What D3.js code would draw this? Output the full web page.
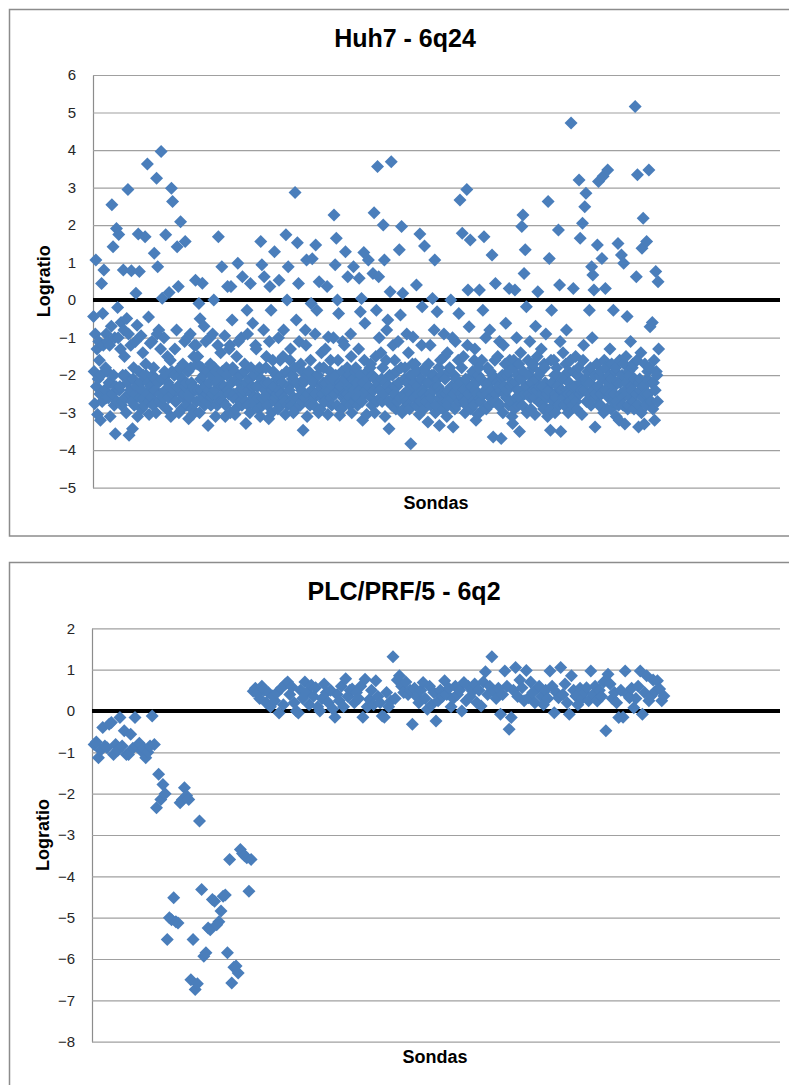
<!DOCTYPE html>
<html><head><meta charset="utf-8">
<script src="https://cdn.jsdelivr.net/npm/d3@7"></script>
<style>body{margin:0;background:#fff}svg{display:block}</style>
</head><body>
<svg id="c" width="789" height="1085"></svg>
<script>
// ---------- DATA ----------
const huh7Title = "Huh7 - 6q24";
const plcTitle = "PLC/PRF/5 - 6q2";
const yAxisTitle = "Logratio";
const xAxisTitle = "Sondas";
const huh7Ticks = [6,5,4,3,2,1,0,-1,-2,-3,-4,-5];
const plcTicks = [2,1,0,-1,-2,-3,-4,-5,-6,-7,-8];
const huh7XMax = 1200;
const plcXMax = 320;

const huh7Values = [
-0.44,-1.9,-2.76,-0.9,1.07,-2.3,-1.3,-3.05,-2.1,-1.1,-1.6,-2.5,-3.2,-2.0,0.44,-2.7,-0.36,-1.2,0.8,-2.4,
-2.4,-1.8,-0.9,-2.6,-1.9,-1.1,-2.6,-2.2,-1.2,-3.1,-2.2,-0.7,2.54,-2.5,1.42,-2.0,-2.8,-1.0,-3.56,-2.3,
1.91,-2.7,-0.2,-1.0,1.75,-2.4,-2.3,-1.3,-0.6,-2.8,-2.7,-2.0,0.8,-0.8,-1.5,-2.6,-2.0,-3.0,-0.49,-2.2,
2.95,-0.9,-3.6,-2.5,-2.4,-1.2,0.78,-2.7,-3.43,-2.1,-1.8,-2.8,-2.5,-1.1,0.18,-2.3,-0.67,-3.1,1.76,-1.9,
0.76,-2.6,-2.2,-0.95,-2.9,-2.4,-1.4,-2.0,-2.6,-2.8,1.69,-1.7,-2.0,-2.5,3.63,-2.2,-0.45,-3.05,-2.7,-1.15,
-2.3,-2.6,-1.1,-2.0,-2.8,-1.8,1.25,-2.4,-2.1,-3.0,3.25,-0.9,0.89,-2.2,-0.8,-2.7,-2.5,-1.3,3.96,-2.1,
0.05,-2.8,-2.6,-1.0,-1.9,-2.4,1.74,-2.0,-2.9,-1.5,-2.2,-2.6,0.2,-2.3,-1.6,-3.1,2.98,-1.9,2.63,-2.5,
-2.4,-2.0,-1.3,-2.7,-2.7,-0.8,1.42,-2.3,0.36,-3.0,-2.0,-1.8,2.09,-2.5,-2.9,-2.1,-1.7,-2.6,-2.5,-1.1,
1.56,-2.3,-2.2,-2.8,-1.0,-1.9,-3.16,-2.5,-2.6,-0.9,-1.8,-2.2,-2.9,-3.05,-2.3,-1.5,-1.2,-2.4,0.53,-1.2,
-2.7,-1.7,-1.5,-2.4,-0.09,-3.0,-0.5,-2.1,-2.4,-1.8,0.45,-2.6,-2.0,-0.7,-2.8,-2.3,-1.1,-2.7,-2.5,-1.9,
-3.34,-2.4,-2.2,-1.0,-1.7,-2.8,-2.6,-2.0,-0.9,-2.5,0,-1.8,-2.4,-3.1,-1.9,-2.2,-2.8,-1.2,1.69,-2.6,
-2.1,-2.7,-1.4,-2.3,0.89,-1.9,-2.7,-2.5,-2.3,-0.95,-3.1,-2.8,-1.8,-2.0,0.36,-2.4,-2.5,-1.3,-1.2,-3.0,
0.36,-2.2,-0.53,-1.8,-2.6,-2.5,-1.9,-3.05,-2.9,-2.1,-1.5,-2.6,0.98,-1.1,-2.2,-2.4,-2.7,-2.0,-1.0,-2.8,
0.62,-2.5,-2.4,-1.9,-1.7,-2.7,-3.29,-2.2,-0.27,-0.9,-2.8,-2.4,-2.1,-3.0,0.44,-1.8,-2.5,-2.3,-0.62,-2.6,
-2.0,-2.8,-2.7,-1.2,-1.3,-2.3,-2.3,-2.6,-2.9,-1.9,-1.8,-3.1,1.56,-2.1,0.94,-2.8,-2.6,-0.8,0.62,-2.4,
-2.2,-1.8,-1.5,-2.6,-2.8,-2.2,-3.16,-1.1,0.36,-2.5,-0.27,-3.0,-2.4,-1.6,-1.9,-2.3,1.29,-2.7,-2.6,-2.0,
-2.1,-2.5,-2.9,-1.0,0.53,-2.4,-1.6,-2.8,-2.5,-2.0,-2.2,-1.5,-0.8,-2.6,-2.7,-3.05,1.74,-1.9,0,-2.8,
0.89,-2.3,-2.4,-1.6,-1.3,-2.7,-2.8,-2.1,-2.0,-3.0,-2.6,-1.8,2.87,-2.9,-0.53,-2.2,1.53,-2.6,0.44,-1.1,
-2.3,-2.8,-1.7,-2.4,-2.7,-1.9,-3.47,-2.2,-2.1,-2.6,-0.8,-1.2,1.07,-3.1,-2.5,-2.0,-1.9,-2.7,-2.8,-1.6,
-0.09,-2.4,1.1,-2.1,-2.2,-2.8,-2.6,-0.9,1.47,-2.5,-0.27,-2.0,-2.0,-3.0,0.49,-1.8,-2.9,-2.3,-1.4,-2.6,
-2.5,-2.2,-1.8,-2.7,-2.7,-1.3,-2.2,-2.4,0.36,-3.05,-0.98,-2.1,-2.4,-1.9,-1.6,-2.6,-2.8,-2.3,-2.1,-1.0,
2.27,-2.5,0.94,-2.0,1.65,-2.8,0,-1.6,-0.36,-2.4,-3.07,-2.2,-2.3,-2.9,-1.9,-1.1,-2.6,-2.5,-1.2,-2.1,
1.29,-2.7,-2.5,-1.8,0.62,-2.3,-2.0,-2.6,-2.8,-0.9,-1.5,-3.0,-2.3,-2.1,0.89,-2.4,-2.7,-1.9,-1.8,-2.6,
-2.2,-2.8,-2.6,-1.3,0.58,-2.4,-0.31,-2.0,0.04,-2.7,-3.2,-2.2,1.27,-1.6,-0.62,-2.5,-2.4,-3.05,-1.9,-2.1,
1.07,-2.3,-2.5,-1.8,-1.7,-2.6,-2.8,-2.0,0.71,-2.4,2.33,-3.0,-2.1,-1.5,-0.27,-2.7,3.56,-2.2,0.62,-1.0,
-2.4,-2.6,-1.4,-2.1,-2.7,-1.8,2.0,-2.5,1.07,-3.1,-2.2,-1.6,-0.8,-2.3,-0.53,-2.7,-3.43,-2.0,0.22,-2.4,
3.69,-2.8,-2.0,-1.2,-2.6,-2.3,-1.6,-2.5,-2.9,-1.9,-2.3,-2.7,-1.1,-2.2,1.34,-2.6,-0.4,-1.8,1.96,-3.0,
0.18,-2.9,-2.5,-2.1,-1.8,-2.6,-2.7,-0.9,-2.2,-2.4,-1.4,-2.8,-2.9,-2.0,-3.83,-2.5,-2.0,-1.7,-0.98,-2.3,
-2.6,-2.2,-1.7,-2.8,0.4,-1.9,-2.3,-2.5,-2.8,-3.05,1.76,-2.7,-2.1,-1.2,-0.18,-2.4,-2.5,-2.9,1.44,-1.8,
-1.9,-2.6,-2.7,-2.2,-3.25,-1.7,-2.2,-2.5,-1.2,-2.8,-2.6,-2.0,0.04,-2.4,-2.0,-0.8,1.07,-3.0,-2.8,-2.3,
-0.31,-2.1,-2.3,-1.8,-3.34,-2.6,-1.6,-2.4,-2.5,-2.0,-2.9,-2.7,-0.9,-1.5,-2.1,-2.5,-2.7,-3.1,-1.4,-2.8,
-2.4,-1.9,-1.8,-2.6,0,-2.3,-2.6,-1.0,-3.38,-2.5,-2.0,-2.9,-1.1,-2.1,-2.8,-2.4,-2.3,-1.6,-0.36,-2.7,
2.67,-2.2,-2.5,-1.8,1.78,-2.6,-1.5,-2.4,-2.7,-3.0,-2.1,-2.8,2.95,-1.2,0.27,-2.5,-0.71,-2.3,1.6,-2.9,
-2.3,-2.0,-1.9,-2.7,-2.8,-1.6,-1.3,-2.4,-3.2,-2.2,-2.5,-3.05,-2.0,-1.8,0.27,-2.6,-2.7,-2.1,-1.6,-2.5,
-0.27,-2.9,1.69,-2.2,-2.4,-1.0,-2.9,-2.5,-1.8,-2.3,-2.2,-2.8,-0.8,-1.9,-2.6,-2.4,1.2,-2.0,-3.65,-2.7,
-2.1,-1.6,0.44,-2.5,-2.7,-2.2,-1.5,-2.8,-2.3,-1.1,-2.8,-2.4,-3.69,-2.1,-2.0,-3.0,-1.2,-2.3,-2.5,-1.7,
-0.62,-2.6,-2.4,-2.0,-1.9,-2.8,0.31,-1.6,-2.7,-2.3,-2.2,-3.1,-3.29,-1.8,-1.6,-2.9,0.27,-2.2,-2.6,-1.0,
-2.0,-2.4,-2.8,-1.7,-3.5,-2.6,-1.4,-2.1,1.96,-2.8,2.27,-1.9,0.71,-2.5,1.34,-2.3,-0.18,-3.0,-2.3,-1.6,
-2.5,-2.0,-1.1,-2.6,-2.9,-2.2,-2.2,-1.8,-1.7,-2.4,-2.6,-3.05,-0.7,-2.1,-2.4,-1.5,0.22,-2.7,-2.0,-2.3,
-2.7,-1.9,-1.3,-2.5,-2.3,-2.8,-2.9,-1.7,-1.8,-2.2,-0.9,-2.6,-2.5,-3.1,2.63,-2.4,1.11,-2.9,-3.47,-1.6,
-0.27,-2.2,-2.2,-2.7,-1.6,-2.0,-3.0,-2.5,-2.6,-1.8,-2.0,-2.3,1.87,-2.8,0.4,-1.1,-3.5,-2.4,-2.4,-2.1,
-1.4,-2.6,-2.8,-2.0,-2.1,-1.7,-0.8,-2.4,-2.5,-3.0,-1.9,-2.2,-2.7,-1.6,4.72,-2.5,-2.3,-2.8,0.31,-1.9,
-2.6,-2.3,-1.5,-2.7,-2.9,-2.0,-2.0,-1.8,3.2,-2.5,1.65,-2.2,-2.4,-3.05,2.05,-1.6,-1.2,-2.4,2.49,-2.1,
2.85,-2.7,-2.2,-1.9,-2.7,-2.5,-0.27,-2.2,-1.8,-2.8,0.89,-1.0,0.67,-2.4,0.27,-2.0,-3.38,-2.6,-2.5,-1.7,
1.47,-2.3,3.16,-2.8,-2.0,-1.9,-2.8,-2.5,1.11,-2.1,3.3,-3.0,-1.6,-2.4,0.31,-1.8,-2.4,-2.9,3.47,-2.2,
-2.6,-2.0,-1.3,-2.5,-2.9,-1.7,-2.1,-2.7,-0.27,-2.3,-2.5,-1.9,-1.8,-3.1,-2.7,-2.2,1.51,-2.8,-3.2,-1.6,
-2.2,-2.5,1.2,-2.0,-2.6,-2.8,0.98,-1.7,-3.3,-2.4,-1.5,-2.2,-0.44,-2.9,-2.8,-1.9,-2.0,-2.6,-1.1,-2.3,
-2.4,-1.8,-1.7,-2.7,-2.9,-2.1,5.16,-2.5,0.62,-1.6,3.34,-2.8,-3.38,-2.2,-2.1,-2.4,-1.4,-3.0,1.38,-2.6,
2.18,-2.3,-3.3,-1.7,-2.5,-2.8,1.56,-2.1,-1.9,-2.5,3.47,-1.8,-0.71,-2.7,-2.7,-2.2,-0.6,-2.9,-2.2,-1.6,
-3.2,-2.4,0.76,-1.9,-2.0,-2.7,0.49,-1.3
];

const plcValues = [
-0.81,-0.75,-1.13,-0.95,-0.4,-0.85,-0.89,-0.32,-0.28,-1.05,
-0.81,-0.95,-0.16,-0.85,-0.48,-1.05,-1.05,-0.56,-0.9,-0.16,
-0.85,-0.78,-0.97,-0.9,-1.13,-1.0,-0.85,-0.12,-0.81,-2.34,
-1.53,-2.14,-1.78,-2.0,-5.53,-5.0,-5.05,-4.52,-5.1,-5.13,
-2.22,-2.15,-1.86,-2.05,-2.14,-6.5,-5.53,-6.74,-6.6,-2.66,
-4.32,-5.93,-5.85,-5.25,-5.29,-4.56,-4.6,-5.17,-5.1,-4.84,
-4.48,-4.45,-5.85,-3.59,-6.58,-6.2,-6.17,-6.34,-3.35,-3.45,
-3.5,-3.55,-4.36,-3.59,
0.48,0.55,0.42,0.3,0.6,0.5,0.2,0.45,0.1,0.36,0.25,0.44,-0.05,0.55,0.15,0.65,
0.7,0.4,0.58,0.2,0,-0.05,0.5,0.3,0.7,0.45,0.15,0.62,0.35,0.56,0.1,0,
0.3,0.65,0.45,0.2,0.5,0.05,-0.15,0.4,0.25,0.6,0.1,0.78,0.35,0.5,0.53,0.2,
0.45,0.3,0.6,-0.15,0.77,0.1,0.28,0.5,0.15,0.73,0.35,0.2,-0.12,-0.15,0.45,0.1,
0.24,1.31,0.3,0.75,0.85,0.6,0.45,0.7,0.4,0.5,-0.32,0.55,0.35,0.2,0.5,0.69,
0.3,0.04,0.6,0.15,0.45,-0.24,0.25,0.5,0.35,0.73,0.4,0.55,0.1,0.3,0.6,0.4,
0.5,0,0.69,0.25,0.6,0.35,0.48,0.65,0.2,0.5,0.12,0.7,0.95,0.4,0.6,1.31,
0.48,0.3,0.55,-0.08,0.4,0.97,0.6,-0.44,-0.16,0.5,1.05,0.35,0.75,0.56,0.25,0.98,
0.32,0.7,0.45,0.2,0.55,0.6,0.35,0.15,0.5,0.3,0.97,0.6,-0.04,0.45,0.32,1.05,
0.4,0.65,0.2,-0.08,0.85,0.5,0.36,0.15,0.55,0.3,0.45,0.56,0.25,0.97,0.4,0.6,
0.24,0.5,0.35,0.7,-0.48,0.89,0.65,0.3,0.45,0.2,-0.16,0.5,-0.15,0.97,0.4,0.32,
0.55,0.08,0.3,0.6,0.97,-0.08,0.45,0.85,0.25,0.36,0.75,0.48,0.73,0.53,0.25,0.36
];

// ---------- DRAW ----------
const svg = d3.select("#c");
const FONT = "'Liberation Sans', Arial, sans-serif";
const markerColor = "#4a7ebb";

function panel(o) {
  const g = svg.append("g");
  g.append("rect").attr("x", o.frame[0]).attr("y", o.frame[1])
    .attr("width", o.frame[2]).attr("height", o.frame[3])
    .attr("fill", "#fff").attr("stroke", "#8c8c8c").attr("stroke-width", 1.5);
  g.append("text").attr("x", o.titleX).attr("y", o.titleY)
    .attr("text-anchor", "middle").attr("font-family", FONT)
    .attr("font-weight", "bold").attr("font-size", 25).attr("fill", "#000")
    .text(o.title);

  const x = d3.scaleLinear().domain([0, o.xMax]).range([o.left, o.right]);
  const y = d3.scaleLinear().domain([o.ticks[o.ticks.length - 1], o.ticks[0]]).range([o.bottom, o.top]);

  const ax = g.append("g").attr("transform", `translate(${o.left},0)`)
    .call(d3.axisLeft(y).tickValues(o.ticks).tickSize(-(o.right - o.left)).tickSizeOuter(0).tickPadding(17)
      .tickFormat(d3.format("d")));
  ax.select(".domain").attr("stroke", "#8c8c8c").attr("stroke-width", 1.2);
  ax.selectAll(".tick line").attr("stroke", "#a0a0a0").attr("stroke-width", 1.2);
  ax.selectAll(".tick text").attr("font-family", FONT).attr("font-size", 15).attr("fill", "#262626");

  g.append("line").attr("x1", o.left).attr("x2", o.right)
    .attr("y1", y(0)).attr("y2", y(0)).attr("stroke", "#000").attr("stroke-width", 4);

  const r = 6.5;
  g.append("g").selectAll("path").data(o.values).join("path")
    .attr("d", `M0,${-r}L${r},0L0,${r}L${-r},0Z`)
    .attr("transform", (d, i) => `translate(${x(i + 1)},${y(d)})`)
    .attr("fill", markerColor);

  g.append("text").attr("x", o.xLabelX).attr("y", o.xLabelY)
    .attr("text-anchor", "middle").attr("font-family", FONT)
    .attr("font-weight", "bold").attr("font-size", 18).text(xAxisTitle);
  g.append("text")
    .attr("transform", `translate(${o.yLabelX},${(o.top + o.bottom) / 2}) rotate(-90)`)
    .attr("text-anchor", "middle").attr("font-family", FONT)
    .attr("font-weight", "bold").attr("font-size", 18).text(yAxisTitle);
}

panel({
  frame: [9.5, 9.5, 800, 526.5],
  title: huh7Title, titleX: 405, titleY: 47,
  ticks: huh7Ticks, values: huh7Values, xMax: huh7XMax,
  left: 93, right: 780, top: 75, bottom: 487.7,
  xLabelX: 436, xLabelY: 509, yLabelX: 50
});
panel({
  frame: [9.5, 562.5, 800, 600],
  title: plcTitle, titleX: 404, titleY: 600,
  ticks: plcTicks, values: plcValues, xMax: plcXMax,
  left: 92, right: 780, top: 628.3, bottom: 1041.7,
  xLabelX: 435, xLabelY: 1063, yLabelX: 49
});
</script>
</body></html>
